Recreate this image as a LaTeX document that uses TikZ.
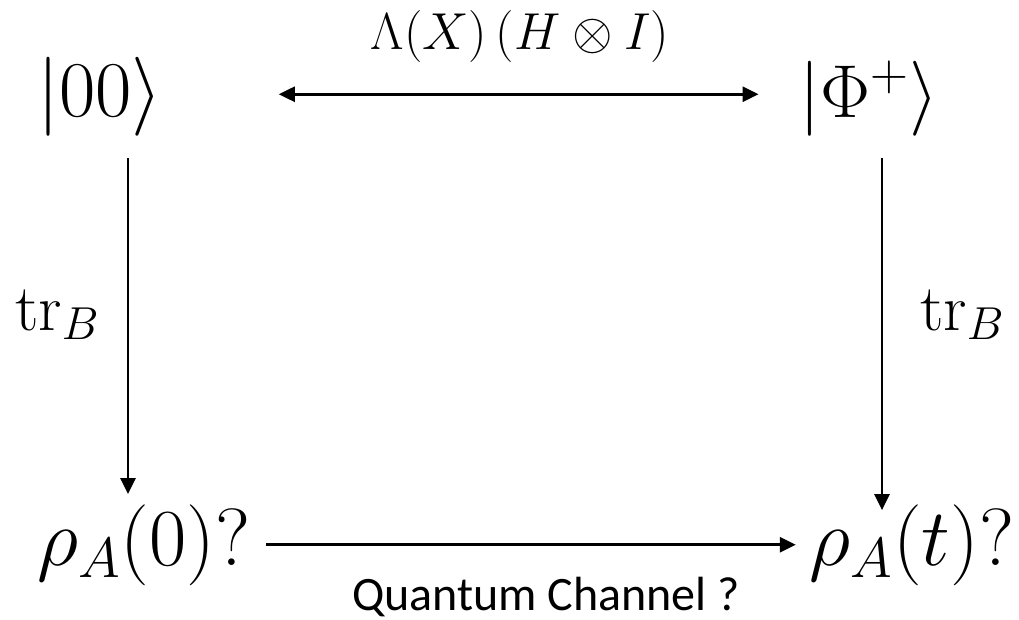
\RequirePackage{fix-cm}
\documentclass[tikz,border=0pt]{standalone}
\usepackage{fontspec}
\newfontfamily\calib{Carlito}
\usetikzlibrary{arrows.meta}
\tikzset{
  ketmath/.style={font=\fontsize{79}{84}\selectfont, inner sep=0pt, anchor=base},
  phimath/.style={font=\fontsize{75}{80}\selectfont, inner sep=0pt, anchor=base},
  rhomath/.style={font=\fontsize{81}{86}\selectfont, inner sep=0pt, anchor=base},
  trlab/.style={font=\fontsize{66}{70}\selectfont, inner sep=0pt, anchor=base},
  toplab/.style={font=\fontsize{52}{56}\selectfont, inner sep=0pt, anchor=base},
  chan/.style={font=\calib\fontsize{48}{52}\selectfont, inner sep=0pt, anchor=base},
  conn/.style={line width=2.6pt, -{Triangle[length=16pt,width=15pt]}},
  dconn/.style={line width=2.6pt, {Triangle[length=16pt,width=15pt]}-{Triangle[length=16pt,width=15pt]}},
}
\begin{document}
\begin{tikzpicture}[x=1pt,y=-1pt]
\useasboundingbox (0,0) rectangle (1019,620);
\node[ketmath] (n00) at (100,117) {$|00\rangle$};
\node[phimath] (phi) at (869,118) {$|\Phi^+\rangle$};
\node[rhomath] (rho0) at (144,565) {$\rho_A(0)?$};
\node[rhomath] (rhot) at (912,565) {$\rho_A(t)?$};
\node[toplab] (lab) at (520,50) {$\Lambda(X)\,(H\otimes I)$};
\node[trlab] (trl) at (57,330) {$\mathrm{tr}_B$};
\node[trlab] (trr) at (962,330) {$\mathrm{tr}_B$};
\node[chan] (qc) at (546,610) {Quantum Channel ?};
\draw[dconn, shorten <=116pt, shorten >=41pt] ([yshift=3pt]n00.east) -- ([yshift=3pt]n00.east -| phi.west);
\draw[conn, shorten <=21pt, shorten >=10pt] ([xshift=28pt]n00.south) -- ([xshift=28pt]n00.south |- rho0.north);
\draw[conn, shorten <=21pt, shorten >=-6pt] ([xshift=13pt]phi.south) -- ([xshift=13pt]phi.south |- rhot.north);
\draw[conn, shorten <=16pt, shorten >=14pt] (rho0.east) -- (rho0.east -| rhot.west);
\end{tikzpicture}
\end{document}
